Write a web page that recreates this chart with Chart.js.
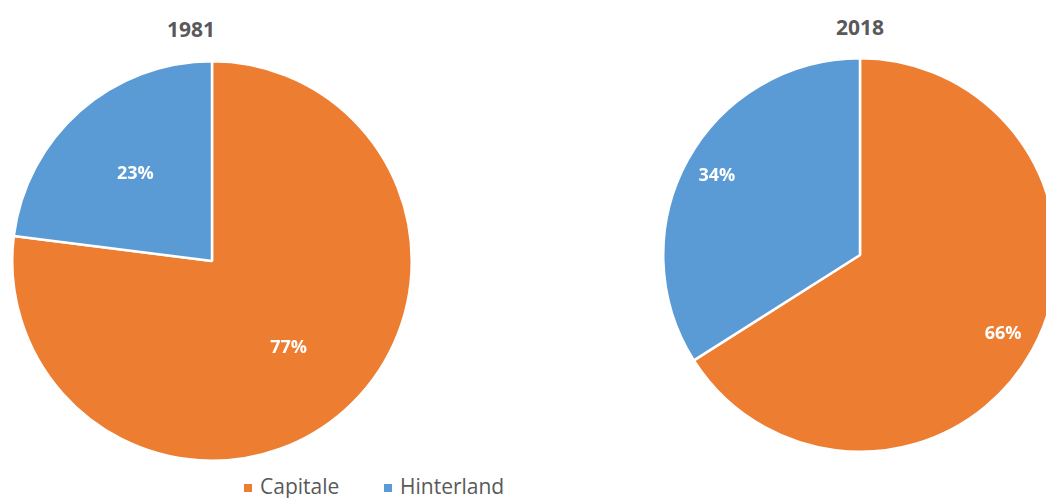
<!DOCTYPE html>
<html>
<head>
<meta charset="utf-8">
<script src="https://cdn.jsdelivr.net/npm/chart.js@4/dist/chart.umd.min.js"></script>
<style>
  html, body { margin: 0; padding: 0; background: #ffffff; overflow: hidden; }
  body { width: 1046px; height: 498px; position: relative; font-family: "Open Sans", sans-serif; }
  .pie { position: absolute; }
  .title { position: absolute; transform: translateX(-50%); font-weight: bold; font-size: 21px; color: #595959; line-height: 1; }
  .leg-box { position: absolute; width: 8px; height: 8px; }
  .leg-text { position: absolute; font-size: 21px; color: #595959; line-height: 1; }
</style>
</head>
<body>
<div class="title" style="left:191px; top:19px;">1981</div>
<div class="title" style="left:860px; top:17px;">2018</div>
<canvas id="pie1981" class="pie" style="left:11px; top:60px;"></canvas>
<canvas id="pie2018" class="pie" style="left:662px; top:57px;"></canvas>
<div id="legend"></div>
<script>
// données
const categories = ["Capitale", "Hinterland"];
const values1981 = [77, 23];
const values2018 = [66, 34];
const colors = ["#ED7D31", "#5B9BD5"];

// étiquettes de pourcentage dans les parts
const sliceLabels = {
    id: "sliceLabels",
    afterDatasetsDraw(chart, args, opts) {
        const ctx = chart.ctx;
        const meta = chart.getDatasetMeta(0);
        const data = chart.data.datasets[0].data;
        const total = data.reduce((s, v) => s + v, 0);
        meta.data.forEach((arc, i) => {
            const angle = (arc.startAngle + arc.endAngle) / 2;
            const r = arc.outerRadius * opts.ratio;
            const x = arc.x + Math.cos(angle) * r;
            const y = arc.y + Math.sin(angle) * r;
            ctx.save();
            ctx.font = "bold 18px 'Open Sans'";
            ctx.fillStyle = "#ffffff";
            ctx.textAlign = "center";
            ctx.textBaseline = "middle";
            ctx.fillText(Math.round(data[i] / total * 100) + "%", x, y);
            ctx.restore();
        });
    }
};

function makePie(id, size, values, ratio) {
    const canvas = document.getElementById(id);
    canvas.width = size;
    canvas.height = size;
    return new Chart(canvas.getContext("2d"), {
        type: "pie",
        data: {
            labels: categories,
            datasets: [{
                data: values,
                backgroundColor: colors,
                borderColor: "#ffffff",
                borderWidth: 2.5
            }]
        },
        options: {
            responsive: false,
            animation: false,
            layout: { padding: 0 },
            plugins: {
                legend: { display: false },
                tooltip: { enabled: false },
                sliceLabels: { ratio: ratio }
            }
        },
        plugins: [sliceLabels]
    });
}

makePie("pie1981", 402, values1981, 0.58);
makePie("pie2018", 396, values2018, 0.83);

// légende
const legend = document.getElementById("legend");
const legendX = [244, 384];
categories.forEach((name, i) => {
    const box = document.createElement("div");
    box.className = "leg-box";
    box.style.left = legendX[i] + "px";
    box.style.top = "484px";
    box.style.background = colors[i];
    legend.appendChild(box);
    const txt = document.createElement("div");
    txt.className = "leg-text";
    txt.style.left = (legendX[i] + 16) + "px";
    txt.style.top = "476px";
    txt.textContent = name;
    legend.appendChild(txt);
});
</script>
</body>
</html>
